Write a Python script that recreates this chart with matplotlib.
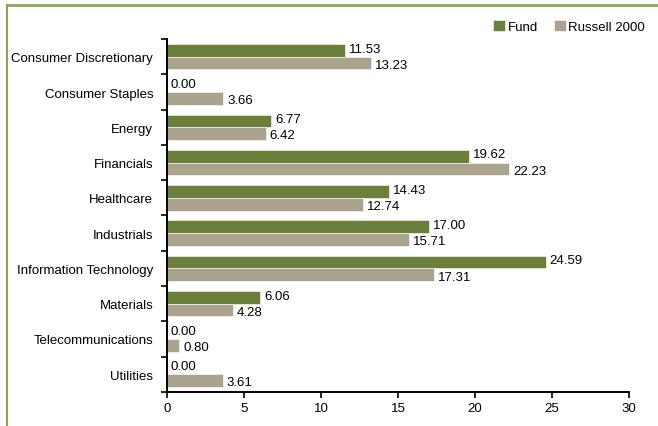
import numpy as np
import matplotlib.pyplot as plt
from matplotlib.lines import Line2D

plt.rcParams['font.family'] = ['Liberation Sans Narrow', 'Liberation Sans', 'DejaVu Sans']

sectors = ['Consumer Discretionary', 'Consumer Staples', 'Energy', 'Financials',
           'Healthcare', 'Industrials', 'Information Technology', 'Materials',
           'Telecommunications', 'Utilities']
fund = [11.53, 0.00, 6.77, 19.62, 14.43, 17.00, 24.59, 6.06, 0.00, 0.00]
russell = [13.23, 3.66, 6.42, 22.23, 12.74, 15.71, 17.31, 4.28, 0.80, 3.61]

green = '#6b7f3a'
tan = '#aaa38d'
border = '#8ca45a'

fig = plt.figure(figsize=(6.58, 4.27), dpi=100)
ax = fig.add_axes([0.254, 0.080, 0.702, 0.826])

y = np.arange(len(sectors))
h = 0.36
ax.barh(y - h / 2, fund, height=h, color=green, edgecolor='white', linewidth=0.4, label='Fund')
ax.barh(y + h / 2, russell, height=h, color=tan, edgecolor='white', linewidth=0.4, label='Russell 2000')

for yi, f, r in zip(y, fund, russell):
    ax.text(f + 0.25, yi - h / 2 - 0.05, f'{f:.2f}', va='center', ha='left', fontsize=9.5)
    ax.text(r + 0.25, yi + h / 2 + 0.05, f'{r:.2f}', va='center', ha='left', fontsize=9.5)

ax.set_ylim(len(sectors) - 0.5, -0.5)
ax.set_xlim(0, 30)
ax.set_xticks(range(0, 31, 5))
ax.set_yticks(y)
ax.set_yticklabels(sectors)
ax.set_yticks(np.arange(-0.5, len(sectors), 1), minor=True)
ax.tick_params(axis='y', which='major', length=0, pad=10, labelsize=9.5)
ax.tick_params(axis='y', which='minor', length=4, width=1.2)
ax.tick_params(axis='x', length=4, width=1.2, labelsize=9.5)

for s in ['top', 'right']:
    ax.spines[s].set_visible(False)
for s in ['left', 'bottom']:
    ax.spines[s].set_linewidth(1.4)

ax.legend(loc='center right', bbox_to_anchor=(1.035, 1.035), ncol=2, frameon=False,
          fontsize=9.5, handlelength=0.9, handleheight=0.9, handletextpad=0.2,
          columnspacing=1.2, borderpad=0, borderaxespad=0)

# border lines on top and left of the figure
fig.add_artist(Line2D([7 / 658, 1], [1 - 6 / 427, 1 - 6 / 427], color=border, lw=2,
                      transform=fig.transFigure))
fig.add_artist(Line2D([7 / 658, 7 / 658], [0, 1 - 6 / 427], color=border, lw=1.5,
                      transform=fig.transFigure))

fig.savefig('out.png', dpi=100)
